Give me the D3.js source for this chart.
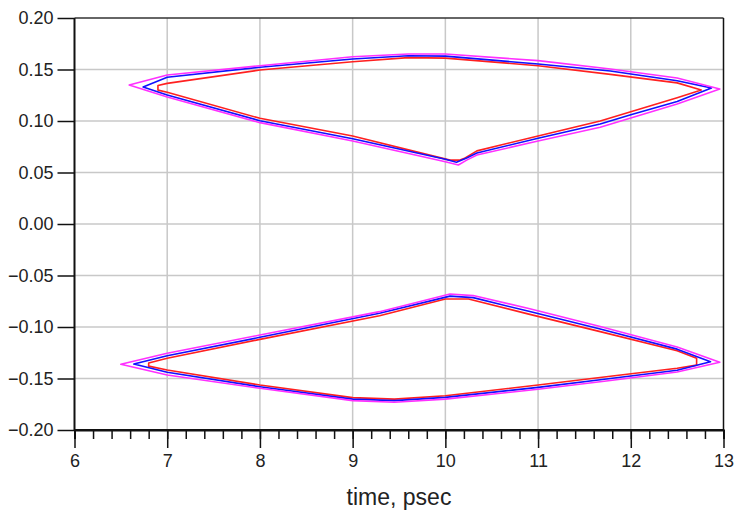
<!DOCTYPE html>
<html><head><meta charset="utf-8">
<script src="https://cdn.jsdelivr.net/npm/d3@7"></script>
<style>body{margin:0;background:#fff;} svg{display:block;font-family:"Liberation Sans",Arial,sans-serif;}</style>
</head><body><svg id="c" width="736" height="523"></svg>
<script>
// ---- data (time in psec, value) ----
const xTicks = [6,7,8,9,10,11,12,13];
const yTicks = [-0.20,-0.15,-0.10,-0.05,0.00,0.05,0.10,0.15,0.20];
const xLabel = "time, psec";
const seriesColors = ["#ff2020","#1010ff","#ff30ff"];

// upper eye contours
const upperRed = [[6.90,0.1345],[7,0.1365],[8,0.1495],[9,0.1576],[9.6,0.1615],[10,0.161],[11,0.1537],[11.78,0.1453],[12.5,0.137],[12.76,0.130],
  [12.5,0.1225],[12,0.109],[11.67,0.100],[11,0.0855],[10.34,0.071],[10.2,0.0635],[10.15,0.062],[10.05,0.062],[9,0.0854],[8,0.1026],[7,0.128],[6.90,0.130]];
const upperBlue = [[6.74,0.133],[7,0.1424],[8,0.1522],[9,0.1602],[9.6,0.1634],[10,0.163],[11,0.1553],[11.78,0.1485],[12.5,0.139],[12.87,0.132],
  [12.5,0.119],[12,0.106],[11.67,0.097],[11,0.0832],[10.34,0.069],[10.23,0.064],[10.12,0.060],[10,0.0628],[9,0.0828],[8,0.1003],[7,0.1252]];
const upperMagenta = [[6.59,0.135],[7,0.1447],[8,0.1537],[9,0.1624],[9.6,0.165],[10,0.165],[11,0.1586],[11.78,0.1505],[12.5,0.1417],[12.96,0.131],
  [12.5,0.1165],[12,0.103],[11.67,0.094],[11,0.0805],[10.34,0.067],[10.23,0.062],[10.14,0.0573],[10,0.0605],[9,0.0806],[8,0.0984],[7,0.1233]];
// lower eye contours
const lowerRed = [[6.80,-0.135],[7,-0.1304],[8,-0.112],[9.29,-0.089],[10.0,-0.0728],[10.25,-0.0728],[10.9,-0.0875],[11.67,-0.1045],[12.5,-0.123],[12.71,-0.1304],[12.71,-0.137],
  [12.5,-0.140],[11.78,-0.1478],[11,-0.1563],[10,-0.1667],[9.45,-0.170],[9,-0.1686],[8,-0.1563],[7,-0.1417],[6.80,-0.138]];
const lowerBlue = [[6.64,-0.136],[7,-0.128],[8,-0.110],[9.29,-0.0867],[10.05,-0.070],[10.3,-0.0715],[10.9,-0.0848],[11.67,-0.102],[12.5,-0.1215],[12.86,-0.1337],
  [12.5,-0.142],[11.78,-0.150],[11,-0.1586],[10,-0.1683],[9.45,-0.1715],[9,-0.170],[8,-0.158],[7,-0.144]];
const lowerMagenta = [[6.50,-0.1362],[7,-0.1255],[8,-0.1078],[9.29,-0.0851],[10.05,-0.068],[10.3,-0.0695],[10.9,-0.082],[11.67,-0.0995],[12.5,-0.1195],[12.96,-0.1343],
  [12.5,-0.1437],[11.78,-0.152],[11,-0.1605],[10,-0.170],[9.45,-0.173],[9,-0.1715],[8,-0.1595],[7,-0.1466]];

const contours = [
  {pts: upperRed, c: 0},{pts: lowerRed, c: 0},
  {pts: upperBlue, c: 1},{pts: lowerBlue, c: 1},
  {pts: upperMagenta, c: 2},{pts: lowerMagenta, c: 2}
];

// ---- layout ----
const L = 74.5, R = 723.5, T = 18, B = 430;
const svg = d3.select("#c");
const x = d3.scaleLinear().domain([6,13]).range([L,R]);
const y = d3.scaleLinear().domain([-0.2,0.2]).range([B,T]);

// grid
const grid = svg.append("g").attr("stroke","#c8c8c8").attr("stroke-width",1.5);
grid.selectAll("line.gx").data(xTicks.slice(1,-1)).join("line")
  .attr("x1",d=>x(d)).attr("x2",d=>x(d)).attr("y1",T).attr("y2",B);
grid.selectAll("line.gy").data(yTicks.slice(1,-1)).join("line")
  .attr("y1",d=>y(d)).attr("y2",d=>y(d)).attr("x1",L).attr("x2",R);

// contours
const line = d3.line().x(d=>x(d[0])).y(d=>y(d[1])).curve(d3.curveLinearClosed);
svg.append("g").selectAll("path").data(contours).join("path")
  .attr("d",d=>line(d.pts)).attr("fill","none")
  .attr("stroke",d=>seriesColors[d.c]).attr("stroke-width",1.6).attr("stroke-linejoin","round");

// frame top/right
svg.append("line").attr("x1",L).attr("x2",R).attr("y1",T).attr("y2",T).attr("stroke","#333").attr("stroke-width",1.5);
svg.append("line").attr("x1",R).attr("x2",R).attr("y1",T).attr("y2",B).attr("stroke","#111").attr("stroke-width",1.5);

// axes
const fmt = d3.format(".2f");
const yAxis = d3.axisLeft(y).tickValues(yTicks).tickFormat(fmt).tickSize(17).tickPadding(4);
const gy = svg.append("g").attr("transform",`translate(${L},0)`).call(yAxis);
const xAxisMinor = d3.axisBottom(x).tickValues(d3.range(6,13.001,0.2).map(v=>+v.toFixed(1))).tickSize(9).tickFormat("");
svg.append("g").attr("transform",`translate(0,${B})`).call(xAxisMinor);
const xAxis = d3.axisBottom(x).tickValues(xTicks).tickFormat(d3.format("d")).tickSize(18).tickPadding(6);
const gx = svg.append("g").attr("transform",`translate(0,${B})`).call(xAxis);
svg.selectAll(".domain").attr("stroke","#111").attr("stroke-width",2);
svg.selectAll(".tick line").attr("stroke","#111").attr("stroke-width",1.5);
svg.selectAll(".tick text").attr("font-size",18).attr("fill","#222")
  .attr("font-family","'Liberation Sans',Arial,sans-serif");
gy.select(".domain").attr("d",`M0,${T}V${B}`);
gx.select(".domain").attr("d",`M${L},0H${R}`);

svg.append("text").attr("x",399).attr("y",505).attr("text-anchor","middle")
  .attr("font-size",23).attr("fill","#222").text(xLabel);
</script></body></html>
